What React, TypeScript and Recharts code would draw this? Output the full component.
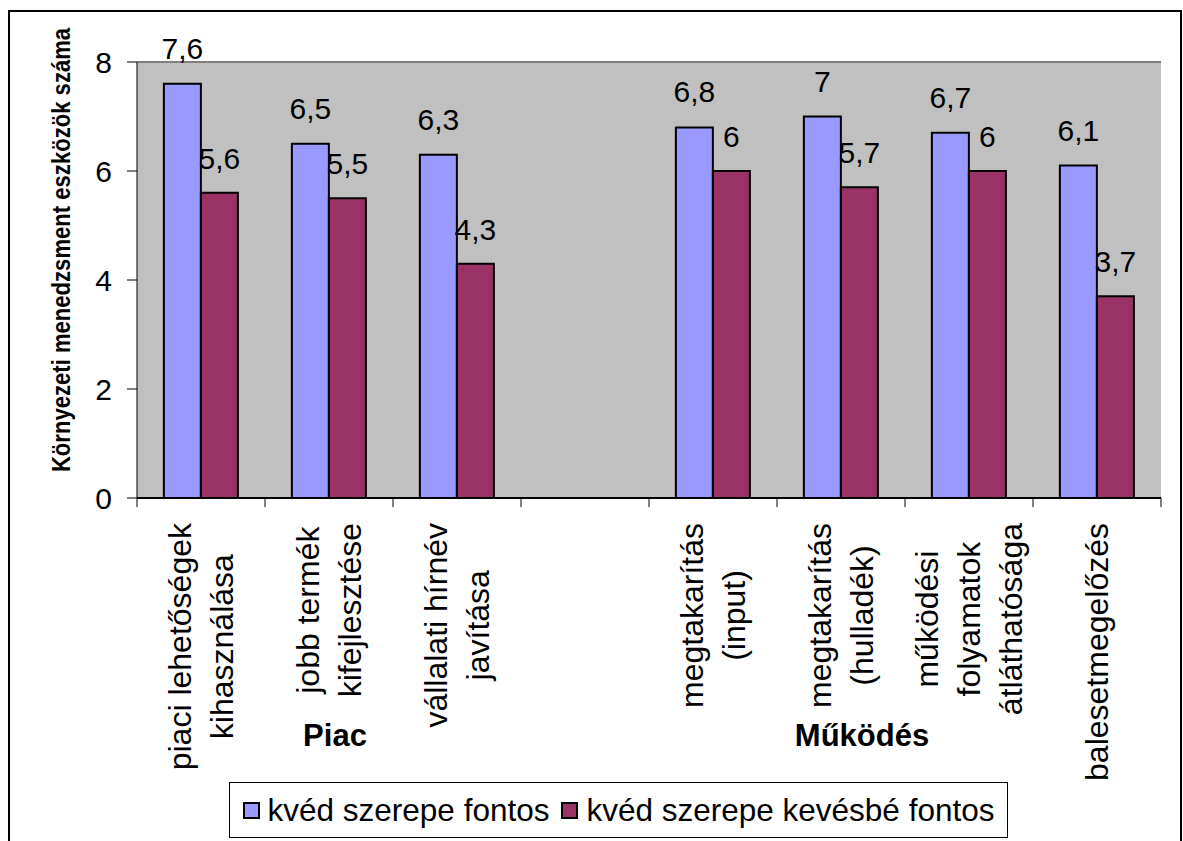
import React from "react";
import { BarChart, Bar, XAxis, YAxis, CartesianGrid, LabelList, ReferenceLine } from "recharts";

// kategóriák (sortörés = \n), az üres hely a két csoport között
const categories = [
  "piaci lehetőségek\nkihasználása",
  "jobb termék\nkifejlesztése",
  "vállalati hírnév\njavítása",
  "",
  "megtakarítás\n(input)",
  "megtakarítás\n(hulladék)",
  "működési\nfolyamatok\nátláthatósága",
  "balesetmegelőzés",
];
const fontos = [7.6, 6.5, 6.3, null, 6.8, 7, 6.7, 6.1];
const kevesbe = [5.6, 5.5, 4.3, null, 6, 5.7, 6, 3.7];
const seriesNames = ["kvéd szerepe fontos", "kvéd szerepe kevésbé fontos"];
// csoportcímkék: melyik kategóriáktól meddig, plusz kis eltolás (px)
const groups = [
  { name: "Piac", from: 0, to: 2, dx: 6 },
  { name: "Működés", from: 4, to: 7, dx: -43 },
];
const yTicks = [0, 2, 4, 6, 8];
const yTitle = "Környezeti menedzsment eszközök száma";

const COLORS = ["#9999FF", "#993366"];
const FONT = "'Liberation Sans', Arial, sans-serif";
const W = 1183;
const H = 841;
const PLOT_LEFT = 137;
const PLOT_RIGHT = 1161;
const PLOT_TOP = 62;
const PLOT_BOTTOM = 498;
const SLOT = (PLOT_RIGHT - PLOT_LEFT) / categories.length;
const CAT_FS = 32;
const CAT_LH = 42;
const CAT_TOP = 523;

const data = categories.map((c, i) => ({ name: c, fontos: fontos[i], kevesbe: kevesbe[i] }));

let ctx: CanvasRenderingContext2D | null = null;
function textWidth(s: string, font: string) {
  if (!ctx) ctx = document.createElement("canvas").getContext("2d");
  if (!ctx) return s.length * 15;
  ctx.font = font;
  return ctx.measureText(s).width;
}

const fmt = (v: any) => (v == null ? "" : String(v).replace(".", ","));

function CategoryTick(props: any) {
  const { x, y, payload } = props;
  const idx = payload.index;
  const label = categories[idx] || "";
  const lines = label ? label.split("\n") : [];
  const maxLen = Math.max(0, ...lines.map((l) => textWidth(l, `${CAT_FS}px ${FONT}`)));
  const cy = CAT_TOP + maxLen / 2;
  const left = x - SLOT / 2;
  const group = groups.find((g) => g.from === idx);
  return (
    <g>
      <line x1={left} y1={y} x2={left} y2={y + 9} stroke="#000" strokeWidth={1} />
      {idx === categories.length - 1 && (
        <line x1={x + SLOT / 2} y1={y} x2={x + SLOT / 2} y2={y + 9} stroke="#000" strokeWidth={1} />
      )}
      {lines.map((l, i) => {
        const cx = x + (i - (lines.length - 1) / 2) * CAT_LH;
        return (
          <text
            key={i}
            x={cx}
            y={cy}
            transform={`rotate(-90, ${cx}, ${cy})`}
            textAnchor="middle"
            dominantBaseline="central"
            fontSize={CAT_FS}
            fontFamily={FONT}
            fill="#000"
          >
            {l}
          </text>
        );
      })}
      {group && (
        <text
          x={x + ((group.to - group.from) / 2) * SLOT + group.dx}
          y={746}
          textAnchor="middle"
          fontSize={31}
          fontWeight="bold"
          fontFamily={FONT}
          fill="#000"
        >
          {group.name}
        </text>
      )}
    </g>
  );
}

// a tengelycím kissé összenyomva, hogy elférjen a rajzterület mellett
function YTitle() {
  const cx = 61;
  const cy = 250;
  return (
    <text
      x={0}
      y={0}
      transform={`translate(${cx}, ${cy}) rotate(-90) scale(0.85, 1)`}
      textAnchor="middle"
      dominantBaseline="central"
      fontSize={26}
      fontWeight="bold"
      fontFamily={FONT}
      fill="#000"
    >
      {yTitle}
    </text>
  );
}

export default function App() {
  return (
    <div style={{ position: "absolute", left: 0, top: 0, width: W, height: H, overflow: "hidden", background: "#fff" }}>
      <div
        style={{
          position: "absolute",
          left: 8,
          top: 10,
          width: 1174,
          height: 900,
          border: "2px solid #000",
          boxSizing: "border-box",
        }}
      />
      <div style={{ position: "absolute", left: 0, top: 0 }}>
        <BarChart
          width={W}
          height={H}
          data={data}
          margin={{ top: PLOT_TOP, right: W - PLOT_RIGHT, bottom: 0, left: 0 }}
          barCategoryGap="21%"
          barGap={0}
        >
          <CartesianGrid vertical={false} fill="#C0C0C0" stroke="#000" strokeWidth={1} />
          <XAxis
            dataKey="name"
            height={H - PLOT_BOTTOM}
            interval={0}
            tickLine={false}
            tickSize={0}
            tickMargin={0}
            axisLine={{ stroke: "#000", strokeWidth: 2 }}
            tick={<CategoryTick />}
          />
          <YAxis
            yAxisId="left"
            width={PLOT_LEFT}
            domain={[0, 8]}
            ticks={yTicks}
            interval={0}
            tickSize={10}
            tickMargin={15}
            axisLine={{ stroke: "#000", strokeWidth: 1 }}
            tickLine={{ stroke: "#000" }}
            tick={{ fontSize: 30, fill: "#000", fontFamily: FONT }}
            label={<YTitle />}
          />
          <YAxis
            yAxisId="right"
            orientation="right"
            width={0}
            domain={[0, 8]}
            tick={false}
            tickLine={false}
            axisLine={{ stroke: "#808080", strokeWidth: 2 }}
          />
          <ReferenceLine yAxisId="left" y={8} stroke="#808080" strokeWidth={2} />
          <Bar yAxisId="left" dataKey="fontos" name={seriesNames[0]} fill={COLORS[0]} stroke="#000" strokeWidth={2} isAnimationActive={false}>
            <LabelList dataKey="fontos" position="top" offset={25} formatter={fmt} fontSize={30} fill="#000" fontFamily={FONT} />
          </Bar>
          <Bar yAxisId="left" dataKey="kevesbe" name={seriesNames[1]} fill={COLORS[1]} stroke="#000" strokeWidth={2} isAnimationActive={false}>
            <LabelList dataKey="kevesbe" position="top" offset={24} formatter={fmt} fontSize={30} fill="#000" fontFamily={FONT} />
          </Bar>
        </BarChart>
      </div>
      <div
        style={{
          position: "absolute",
          left: 229,
          top: 782,
          width: 779,
          height: 56,
          border: "1px solid #000",
          boxSizing: "border-box",
          display: "flex",
          alignItems: "center",
          justifyContent: "center",
          gap: 12,
          fontFamily: FONT,
          fontSize: 31.5,
          whiteSpace: "nowrap",
          background: "#fff",
        }}
      >
        {seriesNames.map((n, i) => (
          <div key={n} style={{ display: "flex", alignItems: "center" }}>
            <span
              style={{
                display: "inline-block",
                width: 17,
                height: 17,
                background: COLORS[i],
                border: "2px solid #000",
                boxSizing: "border-box",
                marginRight: 8,
              }}
            />
            {n}
          </div>
        ))}
      </div>
    </div>
  );
}
